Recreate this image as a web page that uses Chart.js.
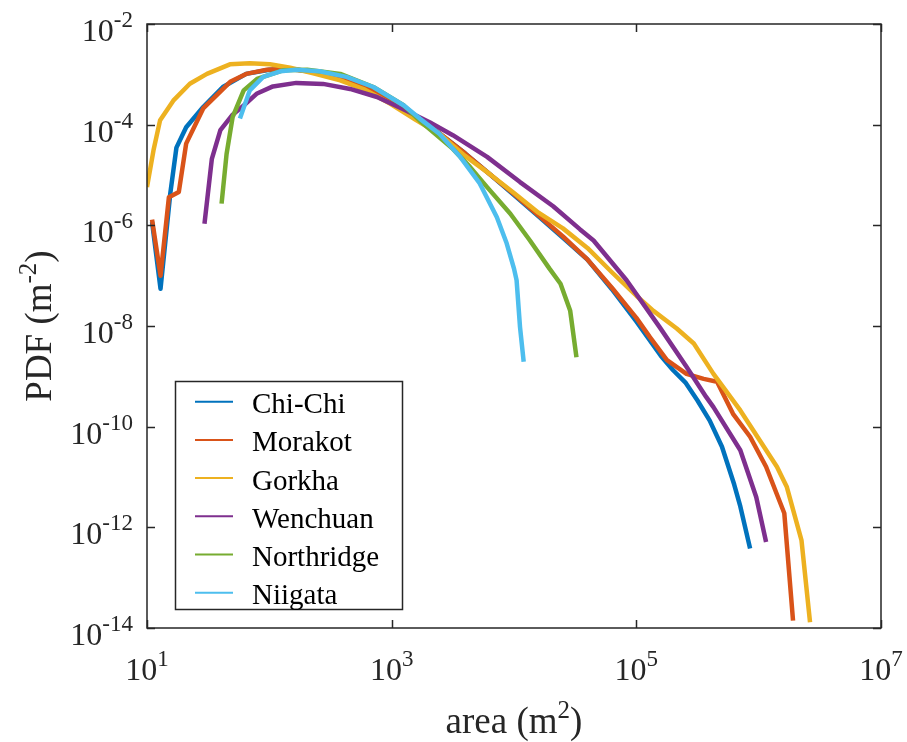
<!DOCTYPE html>
<html>
<head>
<meta charset="utf-8">
<script src="https://cdn.jsdelivr.net/npm/chart.js@4.4.1/dist/chart.umd.min.js"></script>
<style>
html, body { margin: 0; padding: 0; background: #fff; }
#wrap { width: 907px; height: 742px; position: relative; }
</style>
</head>
<body>
<div id="wrap"><canvas id="c"></canvas></div>
<script>
// series names and colours (MATLAB default order)
var names = ['Chi-Chi', 'Morakot', 'Gorkha', 'Wenchuan', 'Northridge', 'Niigata'];
var colors = ['#0072BD', '#D95319', '#EDB120', '#7E2F8E', '#77AC30', '#4DBEEE'];

// area (m^2) and PDF (m^-2)
var areaChiChi = [11, 12.9, 15.5, 17.4, 20.9, 28.8, 41.7, 64.6, 100, 158, 251, 398, 631, 1000, 1585, 2512, 3981, 6310, 1.0e4, 1.585e4, 2.512e4, 3.981e4, 6.31e4, 1.0e5, 1.585e5, 2.0e5, 2.512e5, 3.162e5, 3.981e5, 5.012e5, 6.31e5, 7.08e5, 8.51e5];
var pdfChiChi  = [1.17e-6, 5.5e-8, 4.3e-6, 3.5e-5, 8.9e-5, 2.24e-4, 5.6e-4, 1.02e-3, 1.23e-3, 1.26e-3, 1.1e-3, 8.5e-4, 5.25e-4, 2.95e-4, 1.41e-4, 6.46e-5, 2.69e-5, 1.05e-5, 3.98e-6, 1.51e-6, 5.62e-7, 2.09e-7, 5.37e-8, 1.23e-8, 2.57e-9, 1.32e-9, 7.59e-10, 3.31e-10, 1.32e-10, 3.98e-11, 7.08e-12, 2.6e-12, 3.8e-13];

var areaMorakot = [11, 12.9, 15.1, 18.2, 20.9, 28.8, 47.9, 64.6, 95.5, 138, 229, 398, 631, 1000, 1585, 2512, 3981, 6310, 1.0e4, 1.585e4, 2.512e4, 3.981e4, 6.31e4, 1.0e5, 1.29e5, 1.78e5, 2.57e5, 3.55e5, 4.57e5, 6.17e5, 8.51e5, 1.15e6, 1.62e6, 1.91e6];
var pdfMorakot  = [1.3e-6, 1.0e-7, 3.6e-6, 4.6e-6, 4.2e-5, 2.1e-4, 7.1e-4, 1.02e-3, 1.23e-3, 1.29e-3, 1.12e-3, 8.5e-4, 5.25e-4, 2.95e-4, 1.41e-4, 6.46e-5, 2.69e-5, 1.05e-5, 4.17e-6, 1.58e-6, 6.0e-7, 2.1e-7, 5.75e-8, 1.45e-8, 6.0e-9, 2.1e-9, 1.12e-9, 8.9e-10, 7.8e-10, 1.8e-10, 6.3e-11, 1.6e-11, 1.9e-12, 1.4e-14];

var areaGorkha = [10, 11.3, 12.8, 16.4, 22.4, 30.9, 47.6, 69.2, 101, 148, 229, 380, 589, 977, 1585, 2512, 3981, 6310, 1.0e4, 1.585e4, 2.512e4, 3.981e4, 6.31e4, 1.0e5, 1.38e5, 2.14e5, 2.95e5, 4.27e5, 7.08e5, 1.41e6, 1.7e6, 2.24e6, 2.63e6];
var pdfGorkha  = [5.75e-6, 3.1e-5, 1.23e-4, 3.0e-4, 6.5e-4, 1.02e-3, 1.58e-3, 1.66e-3, 1.58e-3, 1.35e-3, 1.05e-3, 7.6e-4, 5.1e-4, 2.6e-4, 1.23e-4, 6.3e-5, 2.4e-5, 1.05e-5, 4.37e-6, 1.78e-6, 8.7e-7, 3.55e-7, 1.17e-7, 4.0e-8, 2.0e-8, 8.9e-9, 4.5e-9, 1.12e-9, 2.1e-10, 1.6e-11, 6.3e-12, 5.5e-13, 1.3e-14];

var areaWenchuan = [29.5, 33.9, 39.8, 50.1, 61.7, 79.4, 107, 166, 275, 457, 759, 1259, 2042, 3162, 6026, 1.12e4, 2.09e4, 3.47e4, 4.47e4, 8.32e4, 1.55e5, 2.57e5, 3.72e5, 4.27e5, 7.08e5, 9.55e5, 1.15e6];
var pdfWenchuan  = [1.07e-6, 2.1e-5, 7.8e-5, 1.58e-4, 2.4e-4, 4.17e-4, 5.75e-4, 6.76e-4, 6.46e-4, 5.13e-4, 3.55e-4, 2.0e-4, 1.12e-4, 6.17e-5, 2.29e-5, 7.24e-6, 2.4e-6, 8.3e-7, 5.0e-7, 8.1e-8, 9.5e-9, 1.55e-9, 3.9e-10, 2.45e-10, 3.4e-11, 4.0e-12, 5.1e-13];

var areaNorthridge = [40.7, 44.7, 50.1, 61.7, 79.4, 129, 204, 380, 708, 1259, 1698, 3162, 4365, 6026, 9333, 1.35e4, 1.95e4, 2.4e4, 2.88e4, 3.24e4];
var pdfNorthridge  = [2.7e-6, 2.6e-5, 1.41e-4, 4.8e-4, 8.1e-4, 1.2e-3, 1.23e-3, 1.02e-3, 5.6e-4, 2.4e-4, 1.2e-4, 3.3e-5, 1.45e-5, 5.75e-6, 1.7e-6, 5.0e-7, 1.38e-7, 6.9e-8, 2.0e-8, 2.4e-9];

var areaNiigata = [57.5, 69.2, 89.1, 123, 166, 257, 427, 708, 1259, 1698, 2455, 3631, 5248, 7244, 8710, 1.0e4, 1.05e4, 1.12e4, 1.2e4];
var pdfNiigata  = [1.32e-4, 4.8e-4, 8.9e-4, 1.15e-3, 1.23e-3, 1.15e-3, 8.9e-4, 5.6e-4, 2.4e-4, 1.32e-4, 6.6e-5, 2.3e-5, 6.8e-6, 1.45e-6, 4.4e-7, 1.38e-7, 8.1e-8, 9.5e-9, 1.95e-9];

// tick exponents (labels are 10^n)
var xTickExp = [1, 3, 5, 7];
var yTickExp = [-2, -4, -6, -8, -10, -12, -14];

var areas = [areaChiChi, areaMorakot, areaGorkha, areaWenchuan, areaNorthridge, areaNiigata];
var pdfs = [pdfChiChi, pdfMorakot, pdfGorkha, pdfWenchuan, pdfNorthridge, pdfNiigata];

var FONT = '"Liberation Serif", "Times New Roman", serif';
var INK = '#262626';

function toPoints(xs, ys) {
    var pts = [];
    for (var i = 0; i < xs.length; i++) pts.push({x: xs[i], y: ys[i]});
    return pts;
}

var datasets = [];
for (var i = 0; i < names.length; i++) {
    datasets.push({
        label: names[i],
        data: toPoints(areas[i], pdfs[i]),
        borderColor: colors[i],
        backgroundColor: colors[i],
        borderWidth: 4.5,
        pointRadius: 0,
        tension: 0,
        fill: false,
        borderJoinStyle: 'round',
        order: names.length - i   // later series on top, like MATLAB
    });
}

// draws base + superscript; align: 'left' | 'center' | 'right'
function drawSup(ctx, base, sup, x, y, size, supSize, raise, align) {
    ctx.font = size + 'px ' + FONT;
    var wb = ctx.measureText(base).width;
    ctx.font = supSize + 'px ' + FONT;
    var ws = ctx.measureText(sup).width;
    var w = wb + ws;
    var x0 = x;
    if (align === 'center') x0 = x - w / 2;
    if (align === 'right') x0 = x - w;
    ctx.textAlign = 'left';
    ctx.textBaseline = 'alphabetic';
    ctx.font = size + 'px ' + FONT;
    ctx.fillText(base, x0, y);
    ctx.font = supSize + 'px ' + FONT;
    ctx.fillText(sup, x0 + wb, y - raise);
}

// text of form pre + sup + post, centred at x
function drawTitle(ctx, pre, sup, post, x, y, size, supSize, raise) {
    ctx.font = size + 'px ' + FONT;
    var w1 = ctx.measureText(pre).width;
    var w3 = ctx.measureText(post).width;
    ctx.font = supSize + 'px ' + FONT;
    var w2 = ctx.measureText(sup).width;
    var x0 = x - (w1 + w2 + w3) / 2;
    ctx.textAlign = 'left';
    ctx.textBaseline = 'alphabetic';
    ctx.font = size + 'px ' + FONT;
    ctx.fillText(pre, x0, y);
    ctx.font = supSize + 'px ' + FONT;
    ctx.fillText(sup, x0 + w1, y - raise);
    ctx.font = size + 'px ' + FONT;
    ctx.fillText(post, x0 + w1 + w2, y);
}

var matlabAxes = {
    id: 'matlabAxes',
    afterDraw: function(chart) {
        var ctx = chart.ctx, a = chart.chartArea;
        var xs = chart.scales.x, ys = chart.scales.y;
        ctx.save();
        ctx.strokeStyle = INK;
        ctx.fillStyle = INK;
        ctx.lineWidth = 1.5;
        ctx.strokeRect(a.left, a.top, a.right - a.left, a.bottom - a.top);

        var tl = 8;
        ctx.beginPath();
        xTickExp.forEach(function(e) {
            var px = Math.round(xs.getPixelForValue(Math.pow(10, e))) + 0.5;
            ctx.moveTo(px, a.bottom); ctx.lineTo(px, a.bottom - tl);
            ctx.moveTo(px, a.top); ctx.lineTo(px, a.top + tl);
        });
        yTickExp.forEach(function(e) {
            var py = Math.round(ys.getPixelForValue(Math.pow(10, e))) + 0.5;
            ctx.moveTo(a.left, py); ctx.lineTo(a.left + tl, py);
            ctx.moveTo(a.right, py); ctx.lineTo(a.right - tl, py);
        });
        ctx.stroke();

        xTickExp.forEach(function(e) {
            var px = xs.getPixelForValue(Math.pow(10, e));
            drawSup(ctx, '10', String(e), px, a.bottom + 52, 32, 23, 14, 'center');
        });
        yTickExp.forEach(function(e) {
            var py = ys.getPixelForValue(Math.pow(10, e));
            drawSup(ctx, '10', String(e), a.left - 14, py + 17, 32, 23, 14, 'right');
        });

        // axis titles
        drawTitle(ctx, 'area (m', '2', ')', (a.left + a.right) / 2, 733, 37, 25, 15);
        ctx.save();
        ctx.translate(51, (a.top + a.bottom) / 2);
        ctx.rotate(-Math.PI / 2);
        drawTitle(ctx, 'PDF (m', '-2', ')', 0, 0, 37, 25, 15);
        ctx.restore();

        // legend box
        var lx = 175.5, ly = 381.5, lw = 227, lh = 228;
        ctx.fillStyle = '#fff';
        ctx.fillRect(lx, ly, lw, lh);
        ctx.strokeStyle = INK;
        ctx.lineWidth = 1.5;
        ctx.strokeRect(lx, ly, lw, lh);
        for (var i = 0; i < names.length; i++) {
            var ry = 401.7 + i * 38.2;
            ctx.strokeStyle = colors[i];
            ctx.lineWidth = 2;
            ctx.beginPath();
            ctx.moveTo(195, ry); ctx.lineTo(233, ry);
            ctx.stroke();
            ctx.fillStyle = '#000';
            ctx.font = '29px ' + FONT;
            ctx.textAlign = 'left';
            ctx.textBaseline = 'alphabetic';
            ctx.fillText(names[i], 252, ry + 11.5);
        }
        ctx.restore();
    }
};

new Chart(document.getElementById('c'), {
    type: 'line',
    data: { datasets: datasets },
    options: {
        responsive: true,
        maintainAspectRatio: false,
        animation: false,
        layout: { padding: { left: 147, right: 26, top: 24, bottom: 114 } },
        plugins: { legend: { display: false }, tooltip: { enabled: false } },
        scales: {
            x: { type: 'logarithmic', min: 10, max: 1e7, display: false },
            y: { type: 'logarithmic', min: 1e-14, max: 1e-2, display: false }
        }
    },
    plugins: [matlabAxes]
});
</script>
</body>
</html>
